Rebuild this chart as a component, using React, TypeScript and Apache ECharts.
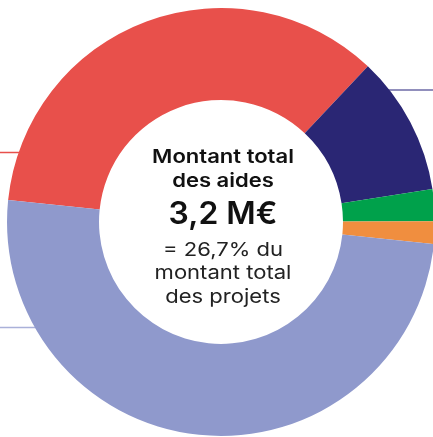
import React, { useEffect, useRef } from "react";
import * as echarts from "echarts";

const categories = ["Catégorie A", "Catégorie B", "Catégorie C", "Catégorie D", "Catégorie E"];
const values = [35.4, 10.5, 2.4, 1.7, 50.0];
const colors = ["#E8504B", "#2A2674", "#00A14B", "#F08E3F", "#8F99CC"];
const centerLines = ["Montant total", "des aides", "3,2 M€", "= 26,7% du", "montant total", "des projets"];

export default function App() {
  const ref = useRef<HTMLDivElement>(null);
  useEffect(() => {
    document.body.style.margin = "0";
    const chart = echarts.init(ref.current!, null, { renderer: "svg" });
    const font = "Inter, 'Open Sans', sans-serif";
    const cx = 223;
    const t = (text: string, y: number, weight: string, size: number, lh: number, fill: string, sx: number) => ({
      type: "text",
      z: 10,
      x: cx,
      y,
      scaleX: sx,
      style: { text, font: `${weight} ${size}px ${font}`, lineHeight: lh, fill, align: "center", verticalAlign: "middle" },
    });
    chart.setOption({
      animation: false,
      graphic: [
        { type: "line", z: 0, shape: { x1: 370, y1: 90, x2: 433, y2: 90 }, style: { stroke: "#6D6AA6", lineWidth: 1.5 } },
        { type: "line", z: 0, shape: { x1: 0, y1: 152.5, x2: 40, y2: 152.5 }, style: { stroke: "#E8504B", lineWidth: 1.5 } },
        { type: "line", z: 0, shape: { x1: 0, y1: 327.5, x2: 60, y2: 327.5 }, style: { stroke: "#AAB1D9", lineWidth: 1.5 } },
        t(centerLines[0], 156, "600", 19, 22, "#111", 1.16),
        t(centerLines[1], 180.5, "600", 19, 22, "#111", 1.16),
        t(centerLines[2], 213.5, "600", 31, 32, "#111", 1.03),
        t(centerLines[3], 249, "normal", 19, 22, "#222", 1.16),
        t(centerLines[4], 272.5, "normal", 19, 22, "#222", 1.16),
        t(centerLines[5], 296, "normal", 19, 22, "#222", 1.16),
      ],
      series: [
        {
          type: "pie",
          z: 2,
          center: [221, 222],
          radius: [122, 214],
          startAngle: 174.1,
          clockwise: true,
          label: { show: false },
          labelLine: { show: false },
          emphasis: { disabled: true },
          itemStyle: { borderWidth: 0 },
          data: categories.map((name, i) => ({ name, value: values[i], itemStyle: { color: colors[i] } })),
        },
      ],
    });
    return () => chart.dispose();
  }, []);
  return <div ref={ref} style={{ position: "fixed", left: 0, top: 0, width: 433, height: 437 }} />;
}
